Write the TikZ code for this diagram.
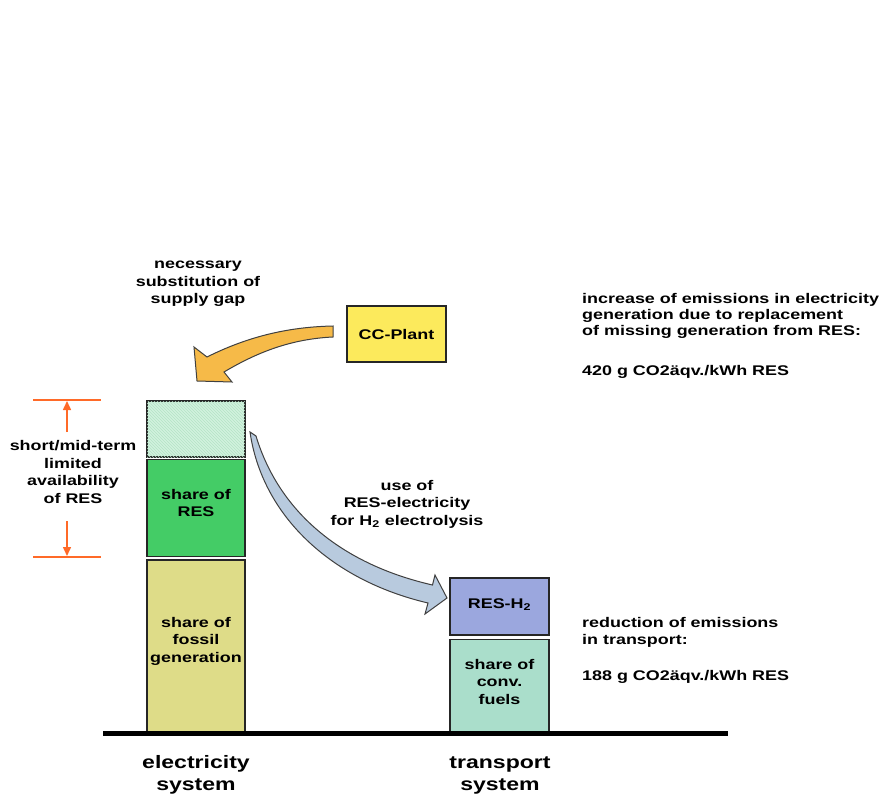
\documentclass[tikz,border=0pt]{standalone}
\usepackage{fontspec}
\setmainfont{Liberation Sans}[FakeStretch=1.28]
\usepackage{xcolor}
\usepackage{tikz}
\usetikzlibrary{positioning, arrows.meta, patterns}

\definecolor{plantyellow}{HTML}{FCEA5C}
\definecolor{arroworange}{HTML}{F6BA48}
\definecolor{gapgreen}{HTML}{D2F2DE}
\definecolor{gapline}{HTML}{B4E4C6}
\definecolor{resgreen}{HTML}{44CC66}
\definecolor{fossilkhaki}{HTML}{DEDC88}
\definecolor{hydroblue}{HTML}{9BA7DE}
\definecolor{fuelmint}{HTML}{AADECB}
\definecolor{arrowblue}{HTML}{B8CADE}
\definecolor{dimorange}{HTML}{FF6A28}

\begin{document}
\begin{tikzpicture}[
    x=1pt, y=-1pt,
    node distance=1pt,
    box/.style={rectangle, draw=black!85, line width=1.6pt, minimum width=98pt, inner sep=0pt, align=center, font=\bfseries\fontsize{14}{17.5}\selectfont, fill=#1},
    txt/.style={inner sep=0pt, align=center, font=\bfseries\fontsize{14}{17.5}\selectfont},
    note/.style={inner sep=0pt, anchor=west, align=left, font=\bfseries\fontsize{14}{16}\selectfont},
    sys/.style={inner sep=0pt, align=center, font=\bfseries\fontsize{18}{22}\selectfont},
    dim/.style={draw=dimorange, line width=1.5pt},
    fatarrow/.style={draw=black!75, line width=1pt, fill=#1},
]
\useasboundingbox[fill=white] (0,0) rectangle (890,799);

% electricity system column
\node[box=gapgreen, minimum height=56pt, postaction={pattern=north west lines, pattern color=gapline}] (gap) at (196,429) {};
\node[box=resgreen, minimum height=97pt, below=of gap, text depth=10pt] (res) {share of\\RES};
\node[box=fossilkhaki, minimum height=172pt, below=1.5pt of res, text depth=12pt] (fossil) {share of\\fossil\\generation};

% transport system column
\node[box=hydroblue, minimum width=99pt, minimum height=57pt, text depth=6pt] (resh) at (499.5,606.5) {RES-H\textsubscript{2}};
\node[box=fuelmint, minimum width=99pt, minimum height=92pt, below=3pt of resh, text depth=8pt] (fuel) {share of\\conv.\\fuels};

\node[box=plantyellow, minimum width=99pt, minimum height=56pt] (plant) at (396.5,334) {CC-Plant};

% ground line
\coordinate (gl) at (103,733);
\coordinate (gr) at (728,733);
\draw[line width=5pt] (gl) -- (gr);

\node[sys] (elsys) at (196,775) {electricity\\system};
\node[sys] (trsys) at (500,775) {transport\\system};

% labels
\node[txt] (need) at (198,284) {necessary\\substitution of\\supply gap};
\node[txt] (avail) at (73,472) {short/mid-term\\limited\\availability\\of RES};
\node[txt] (use) at (407,504) {use of\\RES-electricity\\for H\textsubscript{2} electrolysis};

\node[note] (incr) at (582,315.5) {increase of emissions in electricity\\generation due to replacement\\of missing generation from RES:};
\node[note] (incrval) at (582,372) {420 g CO2äqv./kWh RES};
\node[note, font=\bfseries\fontsize{14}{17}\selectfont] (red) at (582,632.5) {reduction of emissions\\in transport:};
\node[note] (redval) at (582,677) {188 g CO2äqv./kWh RES};

% fat curved arrows
\draw[fatarrow=arroworange] (333,326) .. controls (285,327) and (245,338) .. (207,357)
    -- (194,347) -- (197,381) -- (232,382) -- (224,372)
    .. controls (256,353) and (290,339) .. (333,337) -- cycle;
\draw[fatarrow=arrowblue] (250,432) .. controls (262,515) and (330,580) .. (428,603)
    -- (425,614) -- (447,598) -- (435,575) -- (432.5,585)
    .. controls (345,565) and (280,515) .. (256,436) -- cycle;

% availability span
\coordinate (dt1) at (33,400);
\coordinate (dt2) at (101,400);
\coordinate (db1) at (33,557);
\coordinate (db2) at (101,557);
\coordinate (upfoot) at (67,432);
\coordinate (uptip) at (67,401);
\coordinate (downfoot) at (67,521);
\coordinate (downtip) at (67,556);
\foreach \a/\b in {dt1/dt2, db1/db2} {
    \draw[dim] (\a) -- (\b);
}
\foreach \a/\b in {upfoot/uptip, downfoot/downtip} {
    \draw[dim, -{Triangle[width=8pt, length=9pt]}] (\a) -- (\b);
}

\end{tikzpicture}
\end{document}
